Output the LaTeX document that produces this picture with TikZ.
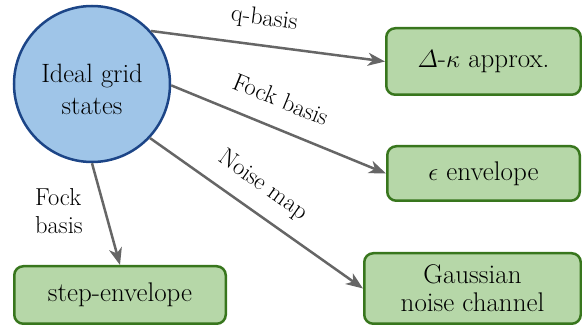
\documentclass[tikz,border=0pt]{standalone}
\usepackage{fontspec}
\usetikzlibrary{arrows.meta}
\definecolor{boxfill}{HTML}{B6D7A8}
\definecolor{boxline}{HTML}{38761D}
\definecolor{circfill}{HTML}{9FC5E8}
\definecolor{circline}{HTML}{1C4587}
\definecolor{arrgray}{HTML}{666666}
\begin{document}
\begin{tikzpicture}[x=1pt,y=-1pt,
  circ/.style={circle, draw=circline, fill=circfill, line width=2.5pt, minimum size=156pt, inner sep=0pt},
  ctext/.style={inner sep=0pt, align=center, font=\fontsize{26.5}{32}\selectfont},
  box/.style={draw=boxline, fill=boxfill, line width=2.5pt, rounded corners=9pt, inner sep=0pt, align=center, font=\fontsize{27}{28}\selectfont},
  arr/.style={draw=arrgray, line width=2.5pt, -{Stealth[length=17pt,width=13pt,inset=5pt]}},
  lbl/.style={font=\fontsize{24.5}{28}\selectfont, inner sep=0pt, text height=18pt, text depth=6pt},
  lbl2/.style={font=\fontsize{24.5}{28}\selectfont, inner sep=0pt, align=left}
]
\useasboundingbox (0,0) rectangle (582,326);
\node[circ] (ideal) at (92,84) {};
\node[ctext] (idealtext) at (92,89) {Ideal grid\\states};
\node[box, minimum width=194.5pt, minimum height=66.5pt] (dk) at (483.5,61.5) {$\mathnormal{\Delta}$-$\kappa$ approx.};
\node[box, minimum width=192.5pt, minimum height=54.5pt] (eps) at (483.5,173.5) {$\epsilon$ envelope};
\node[box, minimum width=211.5pt, minimum height=57.5pt] (step) at (120,295) {step-envelope};
\node[box, minimum width=216.5pt, minimum height=70.5pt] (gauss) at (472.5,288.5) {Gaussian\\noise channel};
\draw[arr] (ideal.42) -- (dk.west) node[lbl, pos=0.47, sloped, above=13pt] (l1) {q-basis};
\draw[arr] (ideal.-1) -- (eps.west) node[lbl, pos=0.46, sloped, above=13pt] (l2) {Fock basis};
\draw[arr] (ideal.-43) -- (gauss.west) node[lbl, pos=0.46, sloped, above=13pt] (l3) {Noise map};
\draw[arr] (ideal.south) -- (step.north);
\node[lbl2, anchor=west] (l4) at (35,211) {Fock\\basis};
\end{tikzpicture}
\end{document}
